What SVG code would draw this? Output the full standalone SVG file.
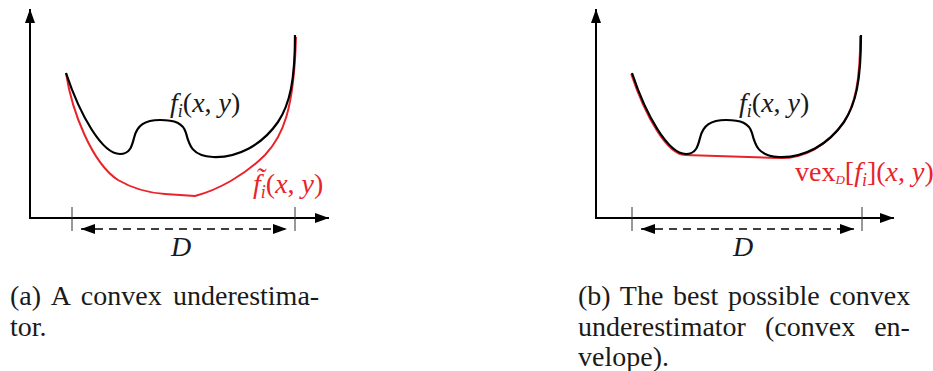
<svg xmlns="http://www.w3.org/2000/svg" width="933" height="371" viewBox="0 0 933 371" font-family="'Liberation Serif', 'Times New Roman', serif">
<style>
.ax{stroke:#000;stroke-width:2;fill:none}
.tick{stroke:#333;stroke-width:1}
.dash{stroke:#000;stroke-width:1.4;stroke-dasharray:8 6;fill:none}
.blk{stroke:#000;stroke-width:2.2;fill:none;stroke-linejoin:round}
.red{stroke:#e8242b;stroke-width:2;fill:none;stroke-linejoin:round}
text{font-family:'Liberation Serif','Times New Roman',serif;fill:#1a1a1a}
.lbl{font-size:28px}
.cap{font-size:28px}
.it{font-style:italic}
.sub{font-size:18px;font-style:italic}
.rt{fill:#e8242b}
</style>
<defs>
<marker id="ah" viewBox="0 0 14 10" refX="14" refY="5" markerWidth="14" markerHeight="10" markerUnits="userSpaceOnUse" orient="auto-start-reverse">
<path d="M0,0 L14,5 L0,10 Z" fill="#000"/>
</marker>
</defs>

<g id="panel-a">
<g id="axes-a">
<path class="ax" d="M30,218 V9" marker-end="url(#ah)"/>
<path class="ax" d="M29,218 H329" marker-end="url(#ah)"/>
<line class="tick" x1="72" y1="207" x2="72" y2="231"/>
<line class="tick" x1="295" y1="207" x2="295" y2="231"/>
<path class="dash" d="M81,229 H287" marker-start="url(#ah)" marker-end="url(#ah)"/>
<text class="lbl it" x="171" y="256">D</text>
</g>
<g id="curves-a">
<path class="red" d="M66,73 C72,112 92,163 118,180 C135,190 150,193 165,194 L195,196 C218,190 245,175 265,155 C283,136 294,110 296,37"/>
<path class="blk" d="M66,73 C80,115 102,154 120,154 C130,154 132,146 134,138 C137,125 145,120 160,120 C175,120 183,123 186,133 C189,145 192,156 213,157 C238,158 262,145 278,122 C290,104 295,80 295,35"/>
</g>
<text id="label-f-a" class="lbl" x="170" y="112"><tspan class="it">f</tspan><tspan class="sub" dy="5">i</tspan><tspan dy="-5">(</tspan><tspan class="it">x</tspan>, <tspan class="it">y</tspan>)</text>
<text id="label-ftilde" class="lbl rt" x="253" y="193"><tspan class="it">f̃</tspan><tspan class="sub" dy="5">i</tspan><tspan dy="-5">(</tspan><tspan class="it">x</tspan>, <tspan class="it">y</tspan>)</text>
<text id="caption-a" class="cap">
<tspan x="10" y="305" word-spacing="4.3">(a) A convex underestima-</tspan>
<tspan x="10" y="336">tor.</tspan>
</text>
</g>

<g id="panel-b">
<g id="axes-b">
<path class="ax" d="M596,218 V9" marker-end="url(#ah)"/>
<path class="ax" d="M595,218 H894" marker-end="url(#ah)"/>
<line class="tick" x1="632" y1="207" x2="632" y2="231"/>
<line class="tick" x1="862" y1="207" x2="862" y2="231"/>
<path class="dash" d="M641,229 H854" marker-start="url(#ah)" marker-end="url(#ah)"/>
<text class="lbl it" x="733" y="256">D</text>
</g>
<g id="curves-b" transform="translate(566,0)">
<path class="red" transform="translate(-0.8,1)" d="M66,73 C80,115 102,154 120,154 L213,157 C238,158 262,145 278,122 C290,104 295,80 295,35"/>
<path class="blk" d="M66,73 C80,115 102,154 120,154 C130,154 132,146 134,138 C137,125 145,120 160,120 C175,120 183,123 186,133 C189,145 192,156 213,157 C238,158 262,145 278,122 C290,104 295,80 295,35"/>
</g>
<text id="label-f-b" class="lbl" x="739" y="112"><tspan class="it">f</tspan><tspan class="sub" dy="5">i</tspan><tspan dy="-5">(</tspan><tspan class="it">x</tspan>, <tspan class="it">y</tspan>)</text>
<text id="label-vex" class="lbl rt" x="795" y="181">vex<tspan class="it" font-size="13" dy="3">D</tspan><tspan dy="-3">[</tspan><tspan class="it">f</tspan><tspan class="sub" dy="5">i</tspan><tspan dy="-5">](</tspan><tspan class="it">x</tspan>, <tspan class="it">y</tspan>)</text>
<text id="caption-b" class="cap">
<tspan x="578" y="305" word-spacing="2.7">(b) The best possible convex</tspan>
<tspan x="578" y="336" word-spacing="12">underestimator (convex en-</tspan>
<tspan x="578" y="366">velope).</tspan>
</text>
</g>
</svg>
